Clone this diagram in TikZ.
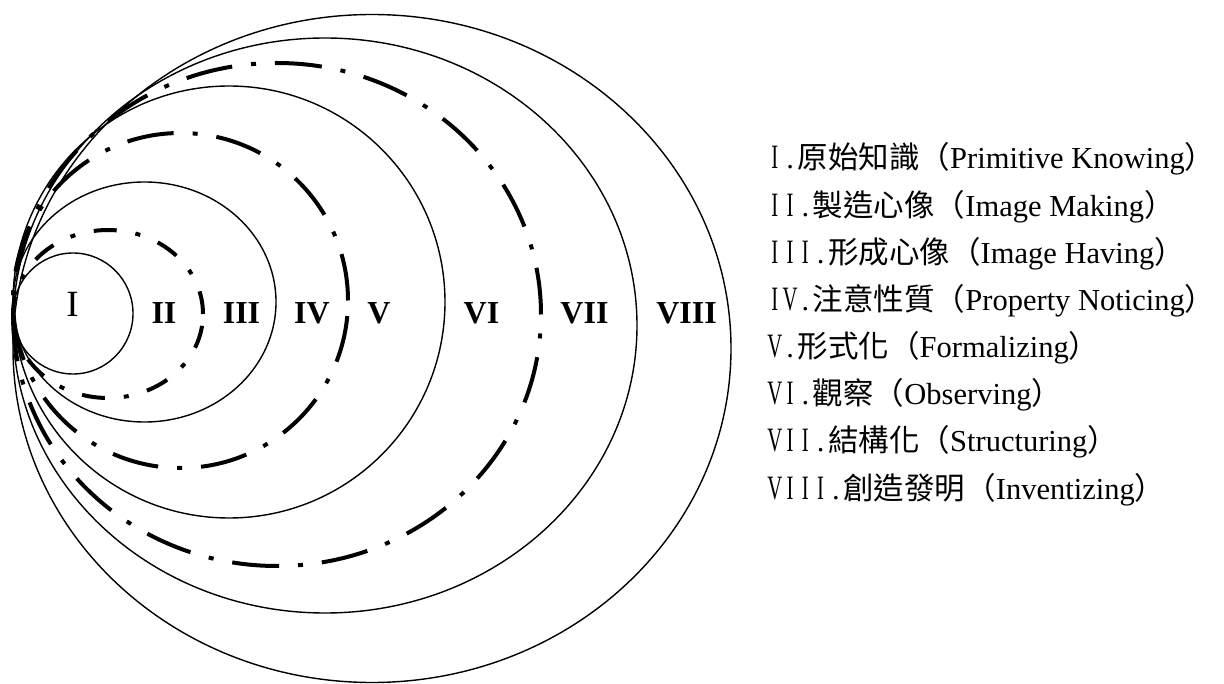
\documentclass[tikz,border=0pt]{standalone}
\usepackage{fontspec}
\usepackage{graphicx}
\setmainfont{Liberation Serif}
\newfontfamily\cjk{Noto Sans CJK TC}
\newcommand\hwc[1]{\makebox[0.5em][c]{\scalebox{0.68}[1.12]{#1}}}
\newcommand\hwd{\makebox[0.5em][c]{.}}
\newcommand\cpar{\makebox[0.5em][l]{\cjk ）}}
\begin{document}
\begin{tikzpicture}[x=1pt,y=-1pt,
  solidring/.style={draw=black,line width=1.4pt},
  dashring/.style={draw=black,line width=4pt,dash pattern=on 47pt off 19pt on 5pt off 19pt},
  dashringsmall/.style={draw=black,line width=4pt,dash pattern=on 23pt off 19pt on 5pt off 19pt},
  lab/.style={inner sep=0pt,anchor=base,font=\fontsize{37}{40}\selectfont},
  labbold/.style={inner sep=0pt,anchor=base,font=\fontsize{32}{36}\selectfont\bfseries},
  legend/.style={inner sep=0pt,anchor=base west,font=\fontsize{30.5}{36}\selectfont}]
\useasboundingbox (0,0) rectangle (1224,684);
\fill[white] (0,0) rectangle (1224,684);
% rings
\draw[solidring] (73,313.5) ellipse [x radius=60pt, y radius=60.5pt];
\draw[dashringsmall] (108,314) ellipse [x radius=95pt, y radius=84pt];
\draw[solidring] (144.5,302) ellipse [x radius=131.5pt, y radius=120pt];
\draw[dashring] (180.5,300.5) ellipse [x radius=167.5pt, y radius=167.5pt];
\draw[solidring] (229,302) ellipse [x radius=216pt, y radius=216pt];
\draw[dashring] (277,314.5) ellipse [x radius=264pt, y radius=251.5pt];
\draw[solidring] (325,325.5) ellipse [x radius=312pt, y radius=287.5pt];
\draw[solidring] (372,348.5) ellipse [x radius=359pt, y radius=334pt];
% ring labels
\node[lab] (r1) at (72.5,317) {I};
\node[labbold] (r2) at (164,323.5) {II};
\node[labbold] (r3) at (241.5,323.5) {III};
\node[labbold] (r4) at (312,323.5) {IV};
\node[labbold] (r5) at (379,323.5) {V};
\node[labbold] (r6) at (481.5,323.5) {VI};
\node[labbold] (r7) at (584.5,323.5) {VII};
\node[labbold] (r8) at (686.5,323.5) {VIII};
% legend
\node[legend] (g1) at (767,169) {\hwc{I}\hwd{\cjk 原始知識（}Primitive Knowing\cpar};
\node[legend] (g2) at (767,216.1) {\hwc{I}\hwc{I}\hwd{\cjk 製造心像（}Image Making\cpar};
\node[legend] (g3) at (767,263.3) {\hwc{I}\hwc{I}\hwc{I}\hwd{\cjk 形成心像（}Image Having\cpar};
\node[legend] (g4) at (767,310.4) {\hwc{I}\hwc{V}\hwd{\cjk 注意性質（}Property Noticing\cpar};
\node[legend] (g5) at (767,357.6) {\hwc{V}\hwd{\cjk 形式化（}Formalizing\cpar};
\node[legend] (g6) at (767,404.7) {\hwc{V}\hwc{I}\hwd{\cjk 觀察（}Observing\cpar};
\node[legend] (g7) at (767,451.9) {\hwc{V}\hwc{I}\hwc{I}\hwd{\cjk 結構化（}Structuring\cpar};
\node[legend] (g8) at (767,499) {\hwc{V}\hwc{I}\hwc{I}\hwc{I}\hwd{\cjk 創造發明（}Inventizing\cpar};
\end{tikzpicture}
\end{document}
